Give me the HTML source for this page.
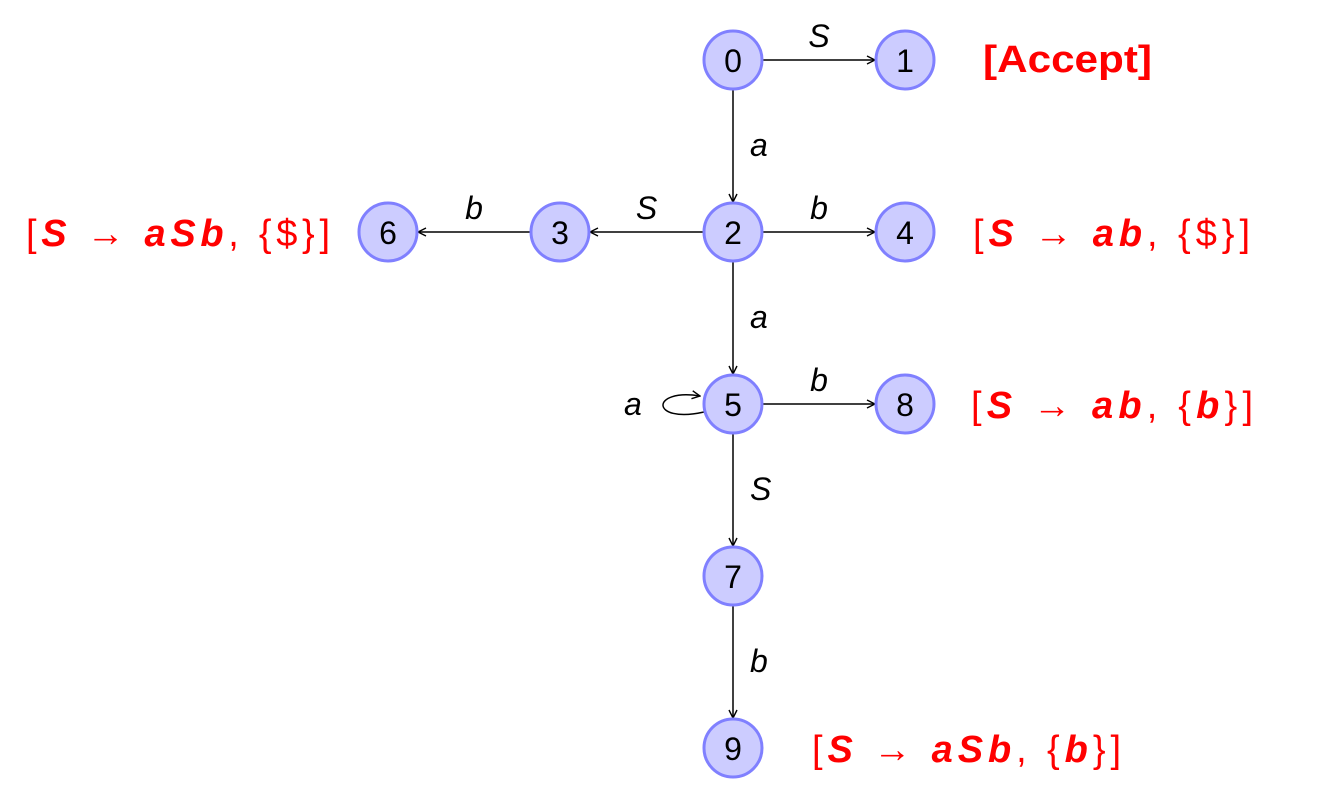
<!DOCTYPE html>
<html><head><meta charset="utf-8">
<style>
html,body{margin:0;padding:0;background:#fff;}
svg{display:block;font-family:"Liberation Sans","DejaVu Sans",sans-serif;}
.red{fill:#f00;font-size:38px;}
.bi{font-weight:bold;font-style:italic;}
.lbl{font-size:32px;font-style:italic;fill:#000;}
.num{font-size:32px;fill:#000;}
</style></head>
<body>
<svg id="g" width="1317" height="805" viewBox="0 0 1317 805" xmlns="http://www.w3.org/2000/svg">
<defs>
<marker id="ah" viewBox="0 0 10 10" refX="9" refY="5" markerWidth="10" markerHeight="10" markerUnits="userSpaceOnUse" orient="auto">
<path d="M1,1 L9,5 L1,9" fill="none" stroke="#000" stroke-width="1.4"/>
</marker>
</defs>
<g id="edges"></g>
<path d="M704,412 C650,424 650,388 700,396" fill="none" stroke="#000" stroke-width="1.5" marker-end="url(#ah)"/>
<text class="lbl" x="624" y="415">a</text>
<g id="nodes"></g>
<text class="red" x="983" y="72" font-weight="bold" textLength="169" lengthAdjust="spacingAndGlyphs">[Accept]</text>
<text class="red" x="26" y="246" textLength="304" lengthAdjust="spacing">[<tspan class="bi">S</tspan> → <tspan class="bi">aSb</tspan>, {$}]</text>
<text class="red" x="973" y="246" textLength="277" lengthAdjust="spacing">[<tspan class="bi">S</tspan> → <tspan class="bi">ab</tspan>, {$}]</text>
<text class="red" x="971" y="418" textLength="282" lengthAdjust="spacing">[<tspan class="bi">S</tspan> → <tspan class="bi">ab</tspan>, {<tspan class="bi">b</tspan>}]</text>
<text class="red" x="812" y="762" textLength="309" lengthAdjust="spacing">[<tspan class="bi">S</tspan> → <tspan class="bi">aSb</tspan>, {<tspan class="bi">b</tspan>}]</text>
</svg>
<script>
const nodeIds=["0","1","2","3","4","5","6","7","8","9"];
const nodeX=[733,905,733,560,905,733,388,733,905,733];
const nodeY=[60,60,232,232,232,404,232,576,404,748];
const edgeFrom=[0,0,2,2,2,3,5,5,7];
const edgeTo=[1,2,3,4,5,6,8,7,9];
const edgeLabels=["S","a","S","b","a","b","b","S","b"];
const R=29;
const NS="http://www.w3.org/2000/svg";
const eg=document.getElementById('edges'), ng=document.getElementById('nodes');
for(let i=0;i<edgeFrom.length;i++){
  const a=edgeFrom[i],b=edgeTo[i];
  const x1=nodeX[a],y1=nodeY[a],x2=nodeX[b],y2=nodeY[b];
  const dx=x2-x1,dy=y2-y1,L=Math.hypot(dx,dy),ux=dx/L,uy=dy/L;
  const ln=document.createElementNS(NS,'line');
  
  
  ln.setAttribute('x1',x1+ux*R);ln.setAttribute('y1',y1+uy*R);
  ln.setAttribute('x2',x2-ux*(R+1));ln.setAttribute('y2',y2-uy*(R+1));
  ln.setAttribute('stroke','#000');ln.setAttribute('stroke-width','1.5');
  ln.setAttribute('marker-end','url(#ah)');
  eg.appendChild(ln);
  const t=document.createElementNS(NS,'text');
  
  
  t.setAttribute('class','lbl');
  const mx=(x1+x2)/2,my=(y1+y2)/2;
  if(Math.abs(dy)<1){t.setAttribute('x',mx);t.setAttribute('y',my-13);t.setAttribute('text-anchor','middle');}
  else{t.setAttribute('x',mx+17);t.setAttribute('y',my+10);}
  t.textContent=edgeLabels[i];
  eg.appendChild(t);
}
for(let i=0;i<nodeIds.length;i++){
  const c=document.createElementNS(NS,'circle');
  
  
  c.setAttribute('cx',nodeX[i]);c.setAttribute('cy',nodeY[i]);c.setAttribute('r',R);
  c.setAttribute('fill','#ccccff');c.setAttribute('stroke','#8080ff');c.setAttribute('stroke-width','3');
  ng.appendChild(c);
  const t=document.createElementNS(NS,'text');
  
  
  t.setAttribute('class','num');
  t.setAttribute('x',nodeX[i]);t.setAttribute('y',nodeY[i]+12);t.setAttribute('text-anchor','middle');
  t.textContent=nodeIds[i];
  ng.appendChild(t);
}
</script>
</body></html>
